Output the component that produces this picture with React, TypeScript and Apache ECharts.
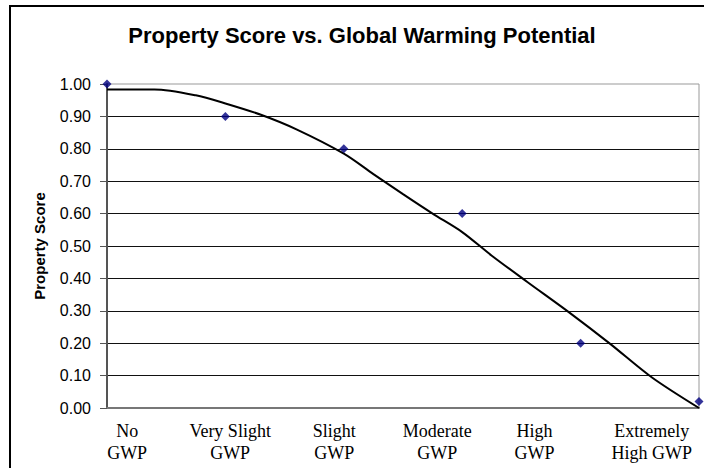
import React, { useEffect, useRef } from "react";
import * as echarts from "echarts";

const CATEGORIES = ["No\nGWP", "Very Slight\nGWP", "Slight\nGWP", "Moderate\nGWP", "High\nGWP", "Extremely\nHigh GWP"];
const LABEL_POS = [0.17, 1.04, 1.92, 2.79, 3.61, 4.6];
const POINT_X = [0, 1, 2, 3, 4, 5];
const SCORES = [1.0, 0.9, 0.8, 0.6, 0.2, 0.02];
const TREND_X = [0, 0.4, 0.75, 1.0, 1.3, 1.6, 2.0, 2.25, 2.5, 2.75, 3.0, 3.25, 3.55, 3.9, 4.25, 4.6, 5.0];
const TREND_Y = [0.983, 0.983, 0.965, 0.94, 0.905, 0.86, 0.785, 0.722, 0.66, 0.6, 0.543, 0.47, 0.389, 0.296, 0.198, 0.095, 0.0];

export default function App() {
  const ref = useRef<HTMLDivElement>(null);
  useEffect(() => {
    if (!ref.current) return;
    const chart = echarts.init(ref.current, null, { renderer: "svg" });
    chart.setOption({
      animation: false,
      backgroundColor: "#fff",
      title: {
        text: "Property Score vs. Global Warming Potential",
        left: 357,
        top: 19,
        textAlign: "center",
        textStyle: { fontFamily: "Liberation Sans", fontWeight: "bold", fontSize: 22, color: "#000" },
      },
      graphic: [
        {
          type: "rect",
          shape: { x: 10, y: 6, width: 800, height: 600 },
          style: { fill: "none", stroke: "#000", lineWidth: 2 },
          silent: true,
        },
      ],
      grid: {
        left: 107,
        right: 5,
        top: 84,
        bottom: 60,
        show: true,
        borderColor: "#999",
        borderWidth: 1,
        containLabel: false,
      },
      xAxis: {
        type: "value",
        min: 0,
        max: 5,
        axisLine: { show: true, lineStyle: { color: "#777", width: 2 } },
        axisTick: { show: false },
        splitLine: { show: false },
        axisLabel: {
          customValues: LABEL_POS,
          margin: 12,
          fontFamily: "Liberation Serif",
          fontSize: 18,
          lineHeight: 22,
          color: "#000",
          align: "center",
          formatter: (v: number) => {
            let best = 0;
            for (let i = 0; i < LABEL_POS.length; i++) {
              if (Math.abs(LABEL_POS[i] - v) < Math.abs(LABEL_POS[best] - v)) best = i;
            }
            return CATEGORIES[best];
          },
        },
      },
      yAxis: {
        type: "value",
        min: 0,
        max: 1,
        interval: 0.1,
        name: "Property Score",
        nameLocation: "middle",
        nameRotate: 90,
        nameGap: 60,
        nameTextStyle: { fontFamily: "Liberation Sans", fontWeight: "bold", fontSize: 15, color: "#000" },
        axisLine: { show: true, lineStyle: { color: "#555", width: 2 } },
        axisTick: { show: true, inside: false, length: 7, lineStyle: { color: "#555" } },
        splitLine: { show: true, showMinLine: false, showMaxLine: false, lineStyle: { color: "#111", width: 1 } },
        axisLabel: {
          margin: 16,
          fontFamily: "Liberation Sans",
          fontSize: 16,
          color: "#000",
          formatter: (v: number) => v.toFixed(2),
        },
      },
      series: [
        {
          type: "line",
          data: TREND_X.map((x, i) => [x, TREND_Y[i]]),
          smooth: 0.3,
          showSymbol: false,
          symbol: "none",
          lineStyle: { color: "#000", width: 2 },
          z: 2,
        },
        {
          type: "scatter",
          data: POINT_X.map((x, i) => [x, SCORES[i]]),
          symbol: "diamond",
          symbolSize: 9,
          itemStyle: { color: "#000080" },
          clip: false,
          z: 3,
        },
      ],
    });
    return () => chart.dispose();
  }, []);
  return (
    <div
      ref={ref}
      style={{ position: "absolute", left: 0, top: 0, width: 704, height: 468, background: "#fff" }}
    />
  );
}
